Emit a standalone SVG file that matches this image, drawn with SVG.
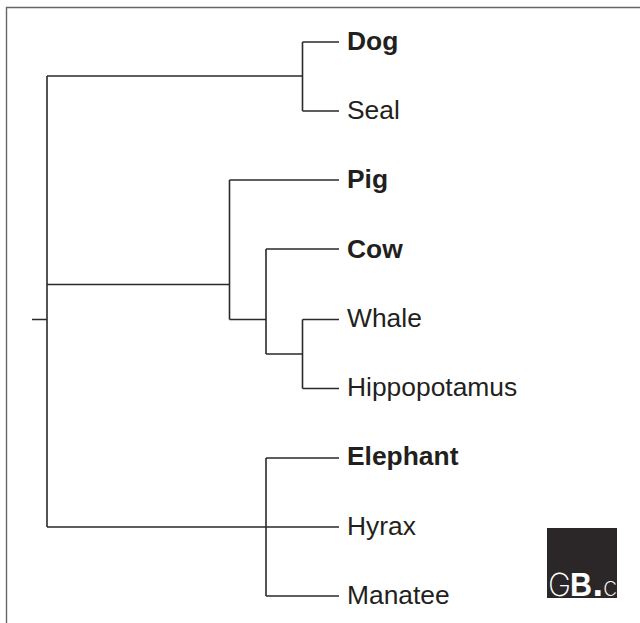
<svg xmlns="http://www.w3.org/2000/svg" width="640" height="623" viewBox="0 0 640 623">
<style>
.f{fill:none;stroke:#666;stroke-width:1.400}
.c path{fill:none;stroke:#2b2a2b;stroke-width:1.600}
text{font-family:"Liberation Sans",Arial,sans-serif;font-size:26.400px;fill:#231f20}
.b{font-weight:bold}
.t{font-family:Inter,"Liberation Sans",sans-serif;font-weight:200;fill:#fff}
.h{font-weight:bold;fill:#fff}
</style>
<rect width="640" height="623" fill="#fff"/>
<path class="f" d="M6.500 623V7.500H640"/>
<g class="c" id="connectors">
<path d="M32 319.500H47M47 76V527"/>
<path d="M47 76H302.500M302.500 42V111M302.500 42H339M302.500 111H339"/>
<path d="M47 284.500H229.500M229.500 180V319.500M229.500 180H339M229.500 319.500H266"/>
<path d="M266 249V354M266 249H339M266 354H302.500M302.500 319.500V388.500M302.500 319.500H339M302.500 388.500H339"/>
<path d="M47 527H339M266 458V596M266 458H339M266 596H339"/>
</g>
<g id="dog"><text class="b" x="347" y="50">Dog</text></g>
<g id="seal"><text x="347" y="118.500">Seal</text></g>
<g id="pig"><text class="b" x="347" y="188">Pig</text></g>
<g id="cow"><text class="b" x="347" y="257.500">Cow</text></g>
<g id="whale"><text x="347" y="326.500">Whale</text></g>
<g id="hippopotamus"><text x="347" y="396">Hippopotamus</text></g>
<g id="elephant"><text class="b" x="347" y="465">Elephant</text></g>
<g id="hyrax"><text x="347" y="535">Hyrax</text></g>
<g id="manatee"><text x="347" y="604">Manatee</text></g>
<g id="logo">
<rect x="547" y="528" width="70" height="70" fill="#2b2728"/>
<text class="t" x="548" y="595.500" style="font-size:32px" textLength="23" lengthAdjust="spacingAndGlyphs">G</text>
<text class="h" x="570" y="595.500" style="font-size:33px" textLength="22" lengthAdjust="spacingAndGlyphs">B</text>
<text class="h" x="592.500" y="596" style="font-size:38px">.</text>
<text class="t" x="603" y="595.500" style="font-size:26px">c</text>
</g>
</svg>
